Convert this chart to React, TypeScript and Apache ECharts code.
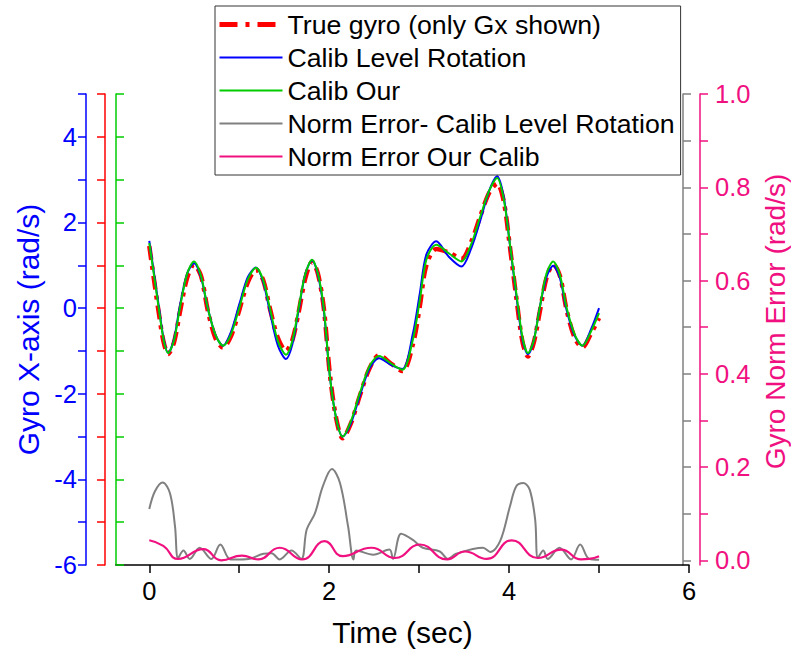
import React, { useEffect, useRef } from 'react';
import * as echarts from 'echarts';

// ---- data ----
const gyroTime = [0, 0.05, 0.105, 0.16, 0.21, 0.275, 0.34, 0.42, 0.497, 0.575, 0.65, 0.735, 0.82, 0.91, 1.0, 1.095, 1.186, 1.265, 1.34, 1.43, 1.52, 1.59, 1.66, 1.735, 1.81, 1.875, 1.94, 2.008, 2.08, 2.15, 2.24, 2.34, 2.45, 2.555, 2.69, 2.815, 2.93, 3.008, 3.08, 3.19, 3.33, 3.47, 3.58, 3.68, 3.78, 3.867, 3.94, 4.008, 4.08, 4.15, 4.21, 4.275, 4.34, 4.415, 4.49, 4.565, 4.64, 4.73, 4.815, 4.91, 5.0];
const trueGyro = [1.45, 0.7, -0.1, -0.8, -1.07, -0.8, -0.1, 0.7, 1.02, 0.75, -0.05, -0.7, -0.92, -0.65, -0.05, 0.6, 0.9, 0.66, 0.0, -0.7, -1.0, -0.75, -0.1, 0.7, 1.08, 0.8, 0.0, -1.55, -2.6, -3.04, -2.7, -2.05, -1.4, -1.1, -1.3, -1.47, -0.85, 0.05, 1.0, 1.38, 1.3, 1.15, 1.55, 2.15, 2.7, 2.91, 2.5, 1.45, 0.25, -0.8, -1.13, -0.8, -0.1, 0.7, 1.02, 0.75, -0.05, -0.7, -0.92, -0.6, -0.23];
const calibLevel = [1.57, 0.85, 0.05, -0.72, -1.05, -0.72, 0.05, 0.8, 1.05, 0.72, 0.0, -0.62, -0.88, -0.55, 0.08, 0.72, 0.95, 0.62, -0.08, -0.88, -1.19, -0.85, -0.05, 0.8, 1.12, 0.78, -0.05, -1.6, -2.6, -3.0, -2.7, -2.05, -1.4, -1.17, -1.33, -1.42, -0.6, 0.35, 1.25, 1.56, 1.2, 0.97, 1.4, 2.05, 2.75, 3.08, 2.6, 1.5, 0.3, -0.75, -1.08, -0.75, 0.0, 0.72, 0.99, 0.7, -0.05, -0.65, -0.88, -0.5, 0.0];
const calibOur = [1.52, 0.8, 0.0, -0.75, -1.05, -0.75, 0.0, 0.8, 1.09, 0.75, 0.0, -0.62, -0.88, -0.6, 0.0, 0.67, 0.94, 0.66, 0.0, -0.77, -1.09, -0.77, 0.0, 0.8, 1.13, 0.8, 0.0, -1.6, -2.6, -3.0, -2.65, -1.99, -1.35, -1.12, -1.3, -1.44, -0.74, 0.19, 1.13, 1.48, 1.28, 1.09, 1.5, 2.14, 2.75, 3.04, 2.55, 1.52, 0.35, -0.7, -1.05, -0.75, 0.0, 0.8, 1.09, 0.77, 0.0, -0.62, -0.88, -0.55, -0.12];

const grayTime = [0, 0.063, 0.149, 0.23, 0.286, 0.32, 0.38, 0.45, 0.56, 0.69, 0.79, 0.9, 1.0, 1.13, 1.27, 1.36, 1.45, 1.58, 1.69, 1.75, 1.84, 1.93, 2.03, 2.12, 2.21, 2.27, 2.3, 2.49, 2.67, 2.71, 2.8, 2.93, 3.04, 3.23, 3.32, 3.41, 3.71, 3.79, 3.9, 4.01, 4.08, 4.16, 4.23, 4.29, 4.32, 4.38, 4.43, 4.56, 4.69, 4.79, 4.89, 5.0];
const normErrLevel = [0.11, 0.148, 0.167, 0.144, 0.073, 0.005, 0.021, 0.003, 0.027, 0.003, 0.034, 0.002, 0.002, 0.004, 0.014, 0.015, 0.002, 0.021, 0.003, 0.066, 0.1, 0.159, 0.196, 0.166, 0.073, 0.002, 0.021, 0.012, 0.023, 0.003, 0.057, 0.044, 0.027, 0.019, 0.003, 0.014, 0.027, 0.018, 0.041, 0.116, 0.159, 0.166, 0.151, 0.087, 0.005, 0.021, 0.003, 0.027, 0.002, 0.034, 0.003, 0.001];

const pinkTime = [0, 0.156, 0.32, 0.6, 0.8, 1.03, 1.21, 1.45, 1.7, 1.95, 2.15, 2.47, 2.73, 3.01, 3.31, 3.51, 3.75, 4.03, 4.32, 4.58, 4.8, 4.89, 5.0];
const normErrOur = [0.043, 0.031, 0.003, 0.024, 0.0, 0.01, 0.002, 0.027, 0.002, 0.041, 0.009, 0.027, 0.005, 0.034, 0.002, 0.019, 0.003, 0.043, 0.005, 0.023, 0.002, 0.003, 0.009];

const xTicks = [0, 1, 2, 3, 4, 5, 6];
const xLabels = [0, 2, 4, 6];
const errTicks = [0, 0.1, 0.2, 0.3, 0.4, 0.5, 0.6, 0.7, 0.8, 0.9, 1.0];
const errLabels = [0, 0.2, 0.4, 0.6, 0.8, 1.0];

const seriesNames = [
  'True gyro (only Gx shown)',
  'Calib Level Rotation',
  'Calib Our',
  'Norm Error- Calib Level Rotation',
  'Norm Error Our Calib',
];

const BLUE = '#0000FF';
const RED = '#FF0000';
const GREEN = '#00CC00';
const GRAY = '#808080';
const PINK = '#F0107F';
const FONT = 'Liberation Sans, Arial, sans-serif';

const zip = (t: number[], v: number[]) => t.map((x, i) => [x, v[i]]);

export default function App() {
  const ref = useRef<HTMLDivElement>(null);
  useEffect(() => {
    if (!ref.current) return;
    const chart = echarts.init(ref.current, undefined, { renderer: 'svg' });
    const leftAxis = (color: string, offset: number, inside: boolean, labels: boolean, name?: string) => ({
      type: 'value',
      position: 'left',
      offset,
      min: -6,
      max: 5,
      interval: 1,
      axisLine: { show: true, onZero: false, lineStyle: { color, width: 1.5 } },
      axisTick: { show: true, inside, length: 8, lineStyle: { color, width: 1.5 } },
      axisLabel: {
        show: labels,
        color,
        fontSize: 25.5,
        margin: 9,
        fontFamily: FONT,
        formatter: (v: number) => (Math.round(v) % 2 === 0 ? String(v) : ''),
      },
      splitLine: { show: false },
      name: name || '',
      nameLocation: 'middle',
      nameRotate: 90,
      nameGap: 43,
      nameTextStyle: { color, fontSize: 30, fontFamily: FONT },
    });
    const rightAxis = (color: string, offset: number, labels: boolean, name?: string) => ({
      type: 'value',
      position: 'right',
      offset,
      min: -0.01,
      max: 1,
      axisLine: { show: true, onZero: false, lineStyle: { color, width: 1.5 } },
      axisTick: { show: true, inside: false, length: 8, customValues: errTicks, lineStyle: { color, width: 1.5 } },
      axisLabel: {
        show: labels,
        color,
        fontSize: 25.5,
        margin: 15,
        fontFamily: FONT,
        customValues: errLabels,
        formatter: (v: number) => v.toFixed(1),
      },
      splitLine: { show: false },
      name: name || '',
      nameLocation: 'middle',
      nameRotate: 90,
      nameGap: 61,
      nameTextStyle: { color, fontSize: 28, fontFamily: FONT, padding: [0, 0, 0, 16] },
    });
    chart.setOption({
      animation: false,
      backgroundColor: '#ffffff',
      textStyle: { fontFamily: FONT },
      grid: { left: 116, right: 102, top: 94, bottom: 89, containLabel: false, outerBoundsMode: 'none' },
      legend: {
        data: [
          { name: seriesNames[0], lineStyle: { color: RED, width: 5, type: [18, 8, 4, 8] } },
          { name: seriesNames[1] },
          { name: seriesNames[2] },
          { name: seriesNames[3] },
          { name: seriesNames[4] },
        ],
        orient: 'vertical',
        left: 215,
        top: 6,
        padding: [5, 6, 5, 2],
        itemWidth: 63,
        itemHeight: 14,
        itemGap: 6,
        itemStyle: { opacity: 0 },
        borderColor: '#333333',
        borderWidth: 1,
        backgroundColor: '#ffffff',
        textStyle: { color: '#000000', fontSize: 26.7, lineHeight: 27, fontFamily: FONT },
      },
      xAxis: {
        type: 'value',
        min: -0.37,
        max: 6,
        axisLine: { show: true, onZero: false, lineStyle: { color: '#000000', width: 1.5 } },
        axisTick: { show: true, inside: false, length: 8, customValues: xTicks, lineStyle: { color: '#000000', width: 1.5 } },
        axisLabel: { color: '#000000', fontSize: 25.5, margin: 13, fontFamily: FONT, customValues: xLabels },
        splitLine: { show: false },
        name: 'Time (sec)',
        nameLocation: 'middle',
        nameGap: 52,
        nameTextStyle: { color: '#000000', fontSize: 30, fontFamily: FONT },
      },
      yAxis: [
        leftAxis(BLUE, 30, false, true, 'Gyro X-axis (rad/s)'),
        leftAxis(RED, 11, false, false),
        leftAxis(GREEN, 0, true, false),
        rightAxis(GRAY, -6, false),
        rightAxis(PINK, 11, true, 'Gyro Norm Error (rad/s)'),
      ],
      series: [
        {
          name: seriesNames[0],
          type: 'line',
          yAxisIndex: 1,
          data: zip(gyroTime, trueGyro),
          smooth: 0.3,
          symbol: 'none',
          color: RED,
          lineStyle: { color: RED, width: 4.5, type: [14, 6, 4, 6] },
          z: 2,
        },
        {
          name: seriesNames[1],
          type: 'line',
          yAxisIndex: 0,
          data: zip(gyroTime, calibLevel),
          smooth: 0.3,
          symbol: 'none',
          color: BLUE,
          lineStyle: { color: BLUE, width: 2 },
          z: 3,
        },
        {
          name: seriesNames[2],
          type: 'line',
          yAxisIndex: 2,
          data: zip(gyroTime, calibOur),
          smooth: 0.3,
          symbol: 'none',
          color: GREEN,
          lineStyle: { color: GREEN, width: 2 },
          z: 4,
        },
        {
          name: seriesNames[3],
          type: 'line',
          yAxisIndex: 3,
          data: zip(grayTime, normErrLevel),
          smooth: 0.35,
          symbol: 'none',
          color: GRAY,
          lineStyle: { color: GRAY, width: 2 },
          z: 2,
        },
        {
          name: seriesNames[4],
          type: 'line',
          yAxisIndex: 4,
          data: zip(pinkTime, normErrOur),
          smooth: 0.5,
          symbol: 'none',
          color: PINK,
          lineStyle: { color: PINK, width: 2.2 },
          z: 3,
        },
      ],
    });
    return () => chart.dispose();
  }, []);
  return <div ref={ref} style={{ position: 'fixed', left: 0, top: 0, width: 791, height: 654 }} />;
}
